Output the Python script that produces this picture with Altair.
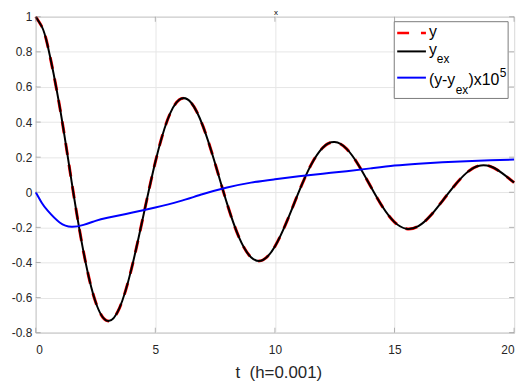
import altair as alt
import pandas as pd

# ---- data ----
t_values = [0, 0.25, 0.5, 1, 1.5, 2, 2.5, 3, 3.5, 4, 4.5, 5, 5.5, 6, 6.5, 7, 7.5, 8, 8.5, 9,
            9.5, 10, 10.5, 11, 11.5, 12, 12.5, 13, 13.5, 14, 14.5, 15, 15.5, 16, 16.5, 17,
            17.5, 18, 18.5, 19, 19.5, 20]
y_values = [1.000, 0.945, 0.835, 0.489, 0.061, -0.341, -0.624, -0.733, -0.660, -0.438,
            -0.134, 0.172, 0.409, 0.527, 0.510, 0.374, 0.164, -0.065, -0.257, -0.370,
            -0.386, -0.309, -0.166, 0.002, 0.153, 0.254, 0.286, 0.247, 0.154, 0.034,
            -0.083, -0.170, -0.208, -0.193, -0.134, -0.050, 0.036, 0.109, 0.150, 0.148,
            0.109, 0.055]
y_exact_values = [1.000, 0.945, 0.835, 0.489, 0.061, -0.341, -0.624, -0.733, -0.660, -0.438,
                  -0.134, 0.172, 0.409, 0.527, 0.510, 0.374, 0.164, -0.065, -0.257, -0.370,
                  -0.386, -0.309, -0.166, 0.002, 0.153, 0.254, 0.286, 0.247, 0.154, 0.034,
                  -0.083, -0.170, -0.208, -0.193, -0.134, -0.050, 0.036, 0.109, 0.150, 0.148,
                  0.109, 0.055]
t_err = [0, 0.25, 0.5, 1, 1.5, 2, 2.5, 3, 4, 5, 6, 7, 8, 9, 10, 11, 12, 13, 14, 15, 16,
         17, 18, 19, 20]
err_values = [0, -0.06, -0.105, -0.172, -0.197, -0.186, -0.163, -0.145, -0.117, -0.087,
              -0.052, -0.010, 0.027, 0.055, 0.074, 0.091, 0.106, 0.120, 0.136, 0.152,
              0.163, 0.171, 0.177, 0.182, 0.186]
x_ticks = [0, 5, 10, 15, 20]
y_ticks = [-0.8, -0.6, -0.4, -0.2, 0, 0.2, 0.4, 0.6, 0.8, 1]
x_title = "t \u00a0(h=0.001)"
chart_title = "x"

W, H = 483, 319
FONT = "Liberation Sans"
AXC = "#969696"

df_y = pd.DataFrame({"t": t_values, "v": y_values})
df_ex = pd.DataFrame({"t": t_values, "v": y_exact_values})
df_err = pd.DataFrame({"t": t_err, "v": err_values})
df_xt = pd.DataFrame({"t": x_ticks})
df_yt = pd.DataFrame({"v": y_ticks})
one = pd.DataFrame({"k": [0]})

x_enc = alt.X("t:Q", scale=alt.Scale(domain=[0, 20], nice=False, zero=False),
              axis=alt.Axis(values=x_ticks, title=x_title, labelPadding=12,
                            titleY=45, titleX=245, titleBaseline="alphabetic",
                            format="d"))
y_enc = alt.Y("v:Q", scale=alt.Scale(domain=[-0.8, 1], nice=False, zero=False),
              axis=alt.Axis(values=y_ticks, title=None, labelPadding=4,
                            labelExpr="(datum.value < 0 ? '-' : '') + format(abs(datum.value), '.1~f')"))

red = alt.Chart(df_y).mark_line(color="#ff0000", strokeWidth=3, strokeDash=[12, 10],
                                 interpolate="natural").encode(x=x_enc, y=y_enc)
black = alt.Chart(df_ex).mark_line(color="#000000", strokeWidth=2,
                                    interpolate="natural").encode(x=x_enc, y=y_enc)
blue = alt.Chart(df_err).mark_line(color="#0000ff", strokeWidth=2,
                                    interpolate="natural").encode(x=x_enc, y=y_enc)

# inward tick marks (MATLAB style) on all four sides
tk = dict(color=AXC, thickness=1, size=5)
xt_bot = alt.Chart(df_xt).mark_tick(orient="vertical", **tk).encode(x=x_enc, y=alt.value(H - 2.5))
xt_top = alt.Chart(df_xt).mark_tick(orient="vertical", **tk).encode(x=x_enc, y=alt.value(2.5))
yt_left = alt.Chart(df_yt).mark_tick(orient="horizontal", **tk).encode(y=y_enc, x=alt.value(2.5))
yt_right = alt.Chart(df_yt).mark_tick(orient="horizontal", **tk).encode(y=y_enc, x=alt.value(W - 2.5))

# legend drawn by hand (for sub/superscripts)
base = alt.Chart(one)
box = base.mark_rect(fill="white", stroke="#7a7a7a", strokeWidth=1).encode(
    x=alt.value(362), x2=alt.value(477), y=alt.value(5), y2=alt.value(82.5))
l1 = base.mark_rule(color="#ff0000", strokeWidth=2.5, strokeDash=[12, 12]).encode(
    x=alt.value(365), x2=alt.value(394), y=alt.value(16.5))
l2 = base.mark_rule(color="#000000", strokeWidth=2).encode(
    x=alt.value(365), x2=alt.value(394), y=alt.value(35))
l3 = base.mark_rule(color="#0000ff", strokeWidth=2).encode(
    x=alt.value(365), x2=alt.value(394), y=alt.value(61.5))


def txt(s, x, y, size, align="left"):
    return base.mark_text(text=s, align=align, baseline="alphabetic", fontSize=size,
                          font=FONT, color="#000").encode(x=alt.value(x), y=alt.value(y))


legend = [
    txt("y", 397, 20, 16),
    txt("y", 397, 39, 16),
    txt("ex", 405, 47, 12),
    txt("(y-y", 397, 69, 16),
    txt("ex", 424, 78, 12),
    txt(")x10", 437, 69, 16),
    txt("5", 468.5, 61, 12),
]
title_mark = txt(chart_title, W / 2 + 1, -2, 8, align="center")

chart = alt.layer(red, black, blue, xt_bot, xt_top, yt_left, yt_right, box, l1, l2, l3,
                  *legend, title_mark).properties(
    width=W, height=H,
    autosize=alt.AutoSizeParams(type="none"),
    padding={"left": 28, "top": 7, "right": 7, "bottom": 50},
).configure_view(stroke=AXC, strokeWidth=1).configure_axis(
    grid=True, gridColor="#e6e6e6", ticks=False, domain=False,
    labelFont=FONT, labelFontSize=12, labelColor="#262626",
    titleFont=FONT, titleFontSize=17, titleColor="#262626", titleFontWeight="normal",
)

chart.save("out.html", embed_options={"renderer": "svg", "actions": False})
